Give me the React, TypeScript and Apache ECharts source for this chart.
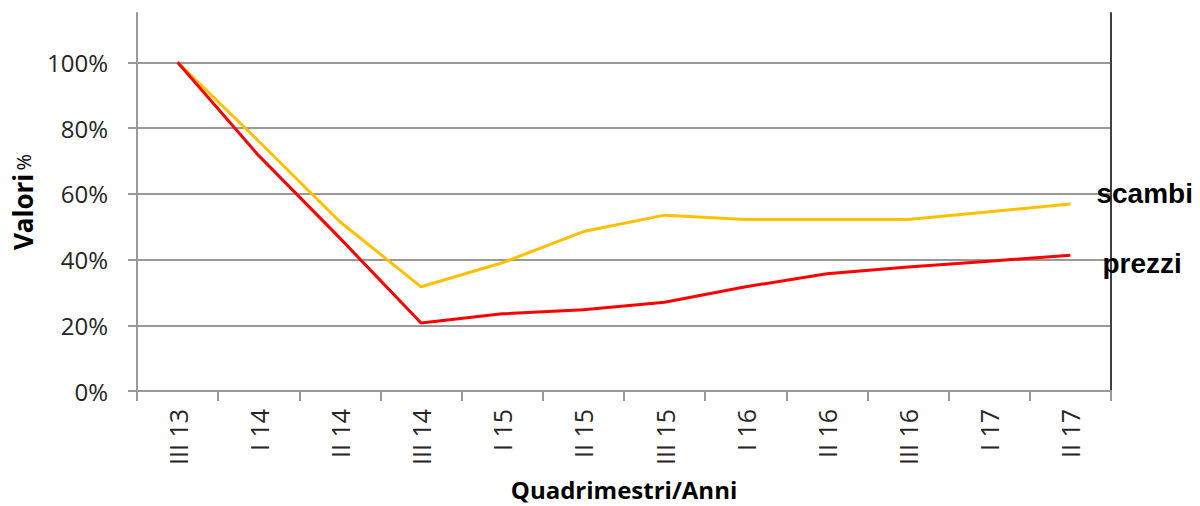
import React, { useEffect, useRef } from "react";
import * as echarts from "echarts";

const categories = ["III 13", "I 14", "II 14", "III 14", "I 15", "II 15", "III 15", "I 16", "II 16", "III 16", "I 17", "II 17"];
const scambi = [1.0, 0.76, 0.515, 0.317, 0.39, 0.485, 0.535, 0.522, 0.522, 0.522, 0.545, 0.569];
const prezzi = [1.0, 0.716, 0.465, 0.207, 0.235, 0.247, 0.27, 0.317, 0.357, 0.377, 0.395, 0.413];
const yTicks = [0, 0.2, 0.4, 0.6, 0.8, 1.0];
const seriesNames = ["scambi", "prezzi"];

const LABEL_FONT = "'Open Sans', 'Noto Sans', sans-serif";
const END_FONT = "'Liberation Sans', Arial, sans-serif";

export default function App() {
  const ref = useRef<HTMLDivElement>(null);
  useEffect(() => {
    if (!ref.current) return;
    const chart = echarts.init(ref.current, undefined, { renderer: "svg" });
    const gridColor = "#999999";
    chart.setOption({
      animation: false,
      backgroundColor: "#ffffff",
      grid: { left: 137, right: 89, top: 13, bottom: 110, containLabel: false },
      xAxis: {
        type: "category",
        data: categories,
        boundaryGap: true,
        axisLine: { show: true, lineStyle: { color: gridColor, width: 2 } },
        axisTick: { show: true, length: 10, alignWithLabel: false, lineStyle: { color: gridColor, width: 2 } },
        axisLabel: {
          rotate: 90,
          interval: 0,
          margin: 18,
          color: "#262626",
          fontFamily: LABEL_FONT,
          fontSize: 25,
        },
        name: "Quadrimestri/Anni",
        nameLocation: "middle",
        nameGap: 86,
        nameTextStyle: { fontFamily: LABEL_FONT, fontWeight: "bold", fontSize: 24, color: "#000" },
        splitLine: { show: false },
      },
      yAxis: [
        {
          type: "value",
          min: 0,
          max: 1.15,
          interval: 0.2,
          position: "left",
          axisLine: { show: true, lineStyle: { color: gridColor, width: 2 } },
          axisTick: { show: true, length: 9, inside: false, customValues: yTicks, lineStyle: { color: gridColor, width: 2 } },
          axisLabel: {
            customValues: yTicks,
            margin: 29,
            color: "#262626",
            fontFamily: LABEL_FONT,
            fontSize: 24,
            formatter: (v: number) => (v > 1.01 ? "" : Math.round(v * 100) + "%"),
          },
          splitLine: {
            show: true,
            lineStyle: {
              color: [gridColor, gridColor, gridColor, gridColor, gridColor, gridColor, "transparent"],
              width: 2,
            },
          },
          name: "{b|Valori} {r|%}",
          nameLocation: "middle",
          nameRotate: 90,
          nameGap: 97,
          nameTextStyle: {
            rich: {
              b: { fontFamily: LABEL_FONT, fontWeight: "bold", fontSize: 26, color: "#000" },
              r: { fontFamily: LABEL_FONT, fontSize: 20, color: "#000" },
            },
          },
        },
        {
          type: "value",
          min: 0,
          max: 1.15,
          position: "right",
          axisLine: { show: true, lineStyle: { color: "#404040", width: 2 } },
          axisTick: { show: false },
          axisLabel: { show: false },
          splitLine: { show: false },
        },
      ],
      series: [
        {
          name: seriesNames[0],
          type: "line",
          data: scambi,
          yAxisIndex: 0,
          symbol: "none",
          lineStyle: { color: "#FFC000", width: 3 },
          itemStyle: { color: "#FFC000" },
          z: 3,
          endLabel: {
            show: true,
            formatter: seriesNames[0],
            distance: 26,
            offset: [0, -10],
            fontFamily: END_FONT,
            fontWeight: "bold",
            fontSize: 28,
            color: "#000",
          },
        },
        {
          name: seriesNames[1],
          type: "line",
          data: prezzi,
          yAxisIndex: 0,
          symbol: "none",
          lineStyle: { color: "#FF0000", width: 3 },
          itemStyle: { color: "#FF0000" },
          z: 4,
          endLabel: {
            show: true,
            formatter: seriesNames[1],
            distance: 32,
            offset: [0, 8],
            fontFamily: END_FONT,
            fontWeight: "bold",
            fontSize: 28,
            color: "#000",
          },
        },
      ],
    });
    return () => chart.dispose();
  }, []);
  return (
    <div
      ref={ref}
      style={{ position: "fixed", left: 0, top: 0, width: 1200, height: 506, background: "#fff" }}
    />
  );
}
